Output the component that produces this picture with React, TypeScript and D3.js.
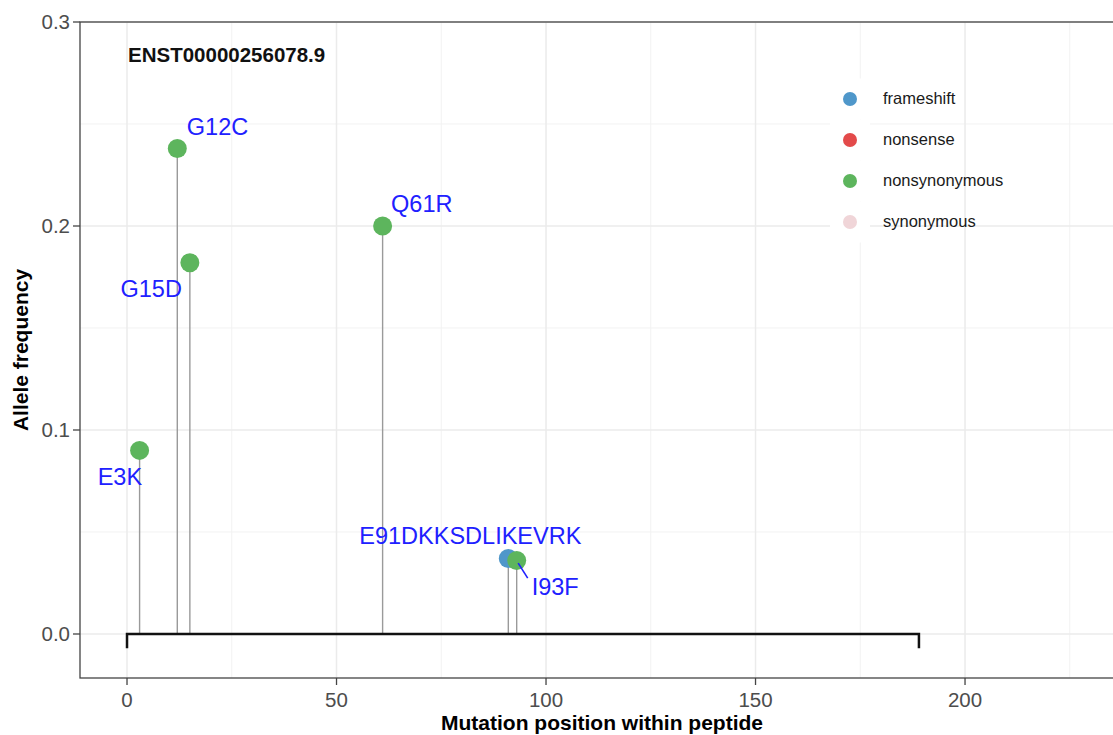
import React from "react";
import * as d3 from "d3";

// Mutations along the KRAS peptide (ENST00000256078.9)
const mutationLabels = ["E3K", "G12C", "G15D", "Q61R", "E91DKKSDLIKEVRK", "I93F"];
const mutationPositions = [3, 12, 15, 61, 91, 93];
const alleleFrequencies = [0.09, 0.238, 0.182, 0.2, 0.037, 0.036];
const mutationTypes = ["nonsynonymous", "nonsynonymous", "nonsynonymous", "nonsynonymous", "frameshift", "nonsynonymous"];

const peptideLength = 189;
const transcriptId = "ENST00000256078.9";

const typeNames = ["frameshift", "nonsense", "nonsynonymous", "synonymous"];
const typeColors = ["#4F97CA", "#E34A4A", "#5DB55D", "#F0D5D8"];

const xTicks = [0, 50, 100, 150, 200];
const xMinorTicks = [25, 75, 125, 175, 225];
const yTicks = [0, 0.1, 0.2, 0.3];
const yMinorTicks = [0.05, 0.15, 0.25];

// Label placement relative to each point (repel-style offsets), in px
const labelLayout: Record<string, { dx: number; dy: number; anchor: string; leader?: [number, number] }> = {
  E3K: { dx: 2.5, dy: 34.5, anchor: "end" },
  G12C: { dx: 9.5, dy: -13.5, anchor: "start" },
  G15D: { dx: -8, dy: 34.5, anchor: "end" },
  Q61R: { dx: 8.5, dy: -14, anchor: "start" },
  E91DKKSDLIKEVRK: { dx: -38, dy: -14.5, anchor: "middle" },
  I93F: { dx: 15, dy: 34.5, anchor: "start", leader: [11, 17.5] },
};

const W = 1113;
const H = 735;
const panel = { left: 80, top: 22, right: 1124, bottom: 678 };

export default function App() {
  const x = d3.scaleLinear().domain([-11.22, 237.94]).range([panel.left, panel.right]);
  const y = d3.scaleLinear().domain([-0.02157, 0.3]).range([panel.bottom, panel.top]);
  const color = d3.scaleOrdinal<string, string>().domain(typeNames).range(typeColors);
  const font = "'Liberation Sans', Arial, Helvetica, sans-serif";

  const points = mutationLabels.map((label, i) => ({
    label,
    pos: mutationPositions[i],
    af: alleleFrequencies[i],
    type: mutationTypes[i],
  }));

  const y0 = y(0);

  return (
    <svg
      width={W}
      height={H}
      style={{ position: "absolute", left: 0, top: 0, background: "#fff" }}
      fontFamily={font}
    >
      {/* panel background */}
      <rect x={panel.left} y={panel.top} width={panel.right - panel.left} height={panel.bottom - panel.top} fill="#fff" />

      {/* grid */}
      {xMinorTicks.map((t) => (
        <line key={"xm" + t} x1={x(t)} x2={x(t)} y1={panel.top} y2={panel.bottom} stroke="#F2F2F2" strokeWidth={1} />
      ))}
      {yMinorTicks.map((t) => (
        <line key={"ym" + t} x1={panel.left} x2={panel.right} y1={y(t)} y2={y(t)} stroke="#F2F2F2" strokeWidth={1} />
      ))}
      {xTicks.map((t) => (
        <line key={"xg" + t} x1={x(t)} x2={x(t)} y1={panel.top} y2={panel.bottom} stroke="#EBEBEB" strokeWidth={1.5} />
      ))}
      {yTicks.map((t) => (
        <line key={"yg" + t} x1={panel.left} x2={panel.right} y1={y(t)} y2={y(t)} stroke="#EBEBEB" strokeWidth={1.5} />
      ))}

      {/* panel border */}
      <rect
        x={panel.left}
        y={panel.top}
        width={panel.right - panel.left}
        height={panel.bottom - panel.top}
        fill="none"
        stroke="#444"
        strokeWidth={1.3}
      />

      {/* axes ticks and labels */}
      {yTicks.map((t) => (
        <g key={"yt" + t}>
          <line x1={panel.left - 7} x2={panel.left} y1={y(t)} y2={y(t)} stroke="#444" strokeWidth={1.3} />
          <text x={panel.left - 10} y={y(t)} dy="0.36em" textAnchor="end" fontSize={20.5} fill="#4D4D4D">
            {d3.format(".1f")(t)}
          </text>
        </g>
      ))}
      {xTicks.map((t) => (
        <g key={"xt" + t}>
          <line x1={x(t)} x2={x(t)} y1={panel.bottom} y2={panel.bottom + 7} stroke="#444" strokeWidth={1.3} />
          <text x={x(t)} y={panel.bottom + 29} textAnchor="middle" fontSize={20.5} fill="#4D4D4D">
            {t}
          </text>
        </g>
      ))}

      {/* axis titles */}
      <text
        x={(panel.left + panel.right) / 2}
        y={729.5}
        textAnchor="middle"
        fontSize={21}
        fontWeight="bold"
        fill="#000"
      >
        Mutation position within peptide
      </text>
      <text
        transform={`translate(28, ${(panel.top + panel.bottom) / 2}) rotate(-90)`}
        textAnchor="middle"
        fontSize={21}
        fontWeight="bold"
        fill="#000"
      >
        Allele frequency
      </text>

      {/* transcript id */}
      <text x={x(0) + 1} y={62} fontSize={20.5} fontWeight="bold" fill="#111">
        {transcriptId}
      </text>

      {/* stems */}
      {points.map((p) => (
        <line key={"s" + p.label} x1={x(p.pos)} x2={x(p.pos)} y1={y0} y2={y(p.af)} stroke="#9A9A9A" strokeWidth={1.4} />
      ))}

      {/* peptide backbone */}
      <path
        d={`M${x(0)},${y(-0.007)} V${y0} H${x(peptideLength)} V${y(-0.007)}`}
        fill="none"
        stroke="#111"
        strokeWidth={2.5}
      />

      {/* lollipop heads */}
      {points
        .slice()
        .sort((a, b) => (a.type === "frameshift" ? -1 : 0) - (b.type === "frameshift" ? -1 : 0))
        .map((p) => (
          <circle key={"c" + p.label} cx={x(p.pos)} cy={y(p.af)} r={9.5} fill={color(p.type)} />
        ))}

      {/* mutation labels */}
      {points.map((p) => {
        const l = labelLayout[p.label];
        const px = x(p.pos);
        const py = y(p.af);
        return (
          <g key={"l" + p.label}>
            {l.leader && (
              <line x1={px + 1.5} y1={py + 2.5} x2={px + l.leader[0]} y2={py + l.leader[1]} stroke="#1F1FFF" strokeWidth={1.6} />
            )}
            <text x={px + l.dx} y={py + l.dy} textAnchor={l.anchor as any} fontSize={23.5} fill="#2020FF">
              {p.label}
            </text>
          </g>
        );
      })}

      {/* legend */}
      {typeNames.map((name, i) => {
        const cy = 99 + i * 41;
        return (
          <g key={"lg" + name}>
            <rect x={830} y={cy - 20.5} width={40} height={41} fill="#fff" />
            <circle cx={850} cy={cy} r={7} fill={color(name)} />
            <text x={883} y={cy} dy="0.33em" fontSize={16.5} fill="#1A1A1A">
              {name}
            </text>
          </g>
        );
      })}
    </svg>
  );
}
